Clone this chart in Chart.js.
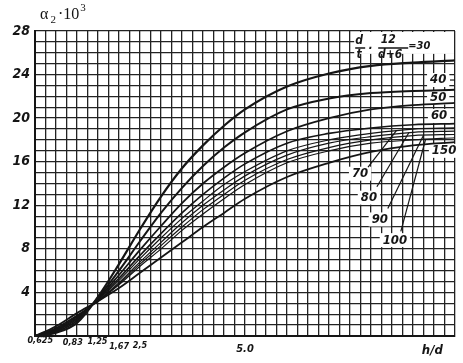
<!DOCTYPE html>
<html>
<head>
<meta charset="utf-8">
<script src="https://cdn.jsdelivr.net/npm/chart.js@4.4.1/dist/chart.umd.min.js"></script>
<style>
  html, body { margin: 0; padding: 0; background: #fff; }
</style>
</head>
<body>
<canvas id="chart" width="463" height="363"></canvas>
<script>
const hd = [0, 0.5, 1, 1.5, 2, 2.5, 3, 3.5, 4, 4.5, 5, 6, 7, 8, 9, 10];

// alpha2 * 10^3 for each d/t * 12/(d+6) ratio
const curve30  = [0, 0.3, 1.2, 3.6, 6.6, 9.8, 12.8, 15.4, 17.5, 19.3, 20.8, 22.9, 24.1, 24.8, 25.1, 25.3];
const curve40  = [0, 0.4, 1.4, 3.5, 6.0, 8.7, 11.3, 13.6, 15.6, 17.3, 18.7, 20.8, 21.8, 22.3, 22.5, 22.6];
const curve50  = [0, 0.5, 1.55, 3.4, 5.6, 7.9, 10.1, 12.2, 14.0, 15.5, 16.8, 18.8, 20.0, 20.8, 21.2, 21.4];
const curve60  = [0, 0.55, 1.65, 3.35, 5.3, 7.4, 9.4, 11.3, 13.0, 14.5, 15.8, 17.7, 18.6, 19.1, 19.4, 19.5];
const curve70  = [0, 0.6, 1.75, 3.3, 5.1, 7.1, 9.0, 10.8, 12.4, 13.9, 15.1, 17.0, 18.0, 18.6, 19.0, 19.1];
const curve80  = [0, 0.65, 1.8, 3.25, 4.9, 6.8, 8.6, 10.4, 12.0, 13.4, 14.7, 16.6, 17.7, 18.3, 18.7, 18.8];
const curve90  = [0, 0.7, 1.85, 3.2, 4.8, 6.6, 8.3, 10.0, 11.6, 13.0, 14.3, 16.2, 17.3, 18.0, 18.4, 18.5];
const curve100 = [0, 0.75, 1.9, 3.2, 4.7, 6.4, 8.0, 9.7, 11.2, 12.6, 13.9, 15.9, 17.0, 17.7, 18.0, 18.2];
const curve150 = [0, 0.9, 2.1, 3.2, 4.4, 5.8, 7.2, 8.6, 10.0, 11.3, 12.6, 14.6, 15.9, 16.9, 17.5, 17.8];

const curveNames = ['30', '40', '50', '60', '70', '80', '90', '100', '150'];
const curveValues = [curve30, curve40, curve50, curve60, curve70, curve80, curve90, curve100, curve150];

const yTickLabels = [4, 8, 12, 16, 20, 24, 28];
const xTickLabels = [5];
const xNoteValues = [0.625, 0.83, 1.25, 1.67, 2.5];
const xNoteLabels = ['0,625', '0,83', '1,25', '1,67', '2,5'];

const handFont = '"DejaVu Sans Condensed", "Liberation Sans Narrow", "DejaVu Sans", sans-serif';
const ink = '#151515';
const lineWidths = [2.2, 2.0, 1.8, 1.6, 1.2, 1.2, 1.2, 1.2, 1.8];

// value of a curve at h/d = v (straight interpolation between read points)
function valueAt(arr, v) {
    for (let i = 1; i < hd.length; i++) {
        if (v <= hd[i]) {
            const t = (v - hd[i - 1]) / (hd[i] - hd[i - 1]);
            return arr[i - 1] + t * (arr[i] - arr[i - 1]);
        }
    }
    return arr[arr.length - 1];
}

// hand lettering on the plot, placed in data units, with optional leader to a curve
const curveTags = [
    { name: '40', at: [9.6, 23.5] },
    { name: '50', at: [9.6, 21.9] },
    { name: '60', at: [9.62, 20.2] },
    { name: '70', at: [7.74, 14.9], from: [7.93, 15.5], tip: 8.6 },
    { name: '80', at: [7.95, 12.7], from: [8.14, 13.7], tip: 8.9 },
    { name: '90', at: [8.21, 10.7], from: [8.4, 11.7], tip: 9.25 },
    { name: '100', at: [8.57, 8.8], from: [8.71, 9.6], tip: 9.3 },
    { name: '150', at: [9.74, 17.0] }
];
const noteNudge = [[-21, 5], [3, 7], [10, 6], [14, 11], [0, 10]];

const notes = {
    id: 'notes',
    beforeDatasetsDraw(chart) {
        const { ctx, scales: { x, y } } = chart;
        ctx.save();
        ctx.fillStyle = '#fff';
        // blank patch for the formula
        const fx0 = x.getPixelForValue(7.6), fy0 = y.getPixelForValue(28);
        ctx.fillRect(fx0, fy0 + 1, x.right - fx0 - 1, y.getPixelForValue(25.9) - fy0 - 1);
        ctx.font = 'italic bold 13px ' + handFont;
        curveTags.forEach(t => {
            const px = x.getPixelForValue(t.at[0]), py = y.getPixelForValue(t.at[1]);
            const w = ctx.measureText(t.name).width;
            ctx.fillRect(px - w / 2 - 3, py - 7, w + 6, 14);
        });
        ctx.restore();
    },
    afterDatasetsDraw(chart) {
        const { ctx, scales: { x, y } } = chart;
        ctx.save();
        ctx.fillStyle = ink;
        ctx.strokeStyle = ink;
        ctx.textAlign = 'center';
        ctx.textBaseline = 'middle';

        // formula  d/t * 12/(d+6) = 30
        const bx = x.getPixelForValue(7.6), by = y.getPixelForValue(28);
        ctx.font = 'italic bold 12px ' + handFont;
        ctx.fillText('d', bx + 5, by + 10);
        ctx.fillText('t', bx + 5, by + 24);
        ctx.fillText('·', bx + 16, by + 18);
        ctx.fillText('12', bx + 34, by + 9);
        ctx.fillText('d+6', bx + 36, by + 24);
        ctx.textAlign = 'left';
        ctx.font = 'italic bold 11px ' + handFont;
        ctx.fillText('=30', bx + 54, by + 15);
        ctx.lineWidth = 1.4;
        ctx.beginPath();
        ctx.moveTo(bx + 1, by + 17); ctx.lineTo(bx + 11, by + 17);
        ctx.moveTo(bx + 24, by + 17); ctx.lineTo(bx + 54, by + 17);
        ctx.stroke();

        // curve names and leaders
        ctx.textAlign = 'center';
        ctx.font = 'italic bold 13px ' + handFont;
        curveTags.forEach(t => {
            ctx.fillText(t.name, x.getPixelForValue(t.at[0]), y.getPixelForValue(t.at[1]));
            if (t.from) {
                const arr = curveValues[curveNames.indexOf(t.name)];
                ctx.lineWidth = 1.2;
                ctx.beginPath();
                ctx.moveTo(x.getPixelForValue(t.from[0]), y.getPixelForValue(t.from[1]));
                ctx.lineTo(x.getPixelForValue(t.tip), y.getPixelForValue(valueAt(arr, t.tip)));
                ctx.stroke();
            }
        });
        ctx.lineWidth = 1.2;
        ctx.beginPath();
        ctx.moveTo(x.getPixelForValue(9.88), y.getPixelForValue(23.5));
        ctx.lineTo(x.getPixelForValue(10), y.getPixelForValue(23.5));
        ctx.stroke();

        // marks under the axis
        ctx.font = 'italic bold 9px ' + handFont;
        xNoteValues.forEach((v, i) => {
            ctx.fillText(xNoteLabels[i], x.getPixelForValue(v) + noteNudge[i][0], y.bottom + noteNudge[i][1]);
        });

        // y axis name  alpha2 * 10^3
        ctx.textAlign = 'left';
        ctx.textBaseline = 'alphabetic';
        const tx = x.left + 5, ty = 19;
        ctx.font = '16px "Liberation Serif", serif';
        ctx.fillText('α', tx, ty);
        let w = ctx.measureText('α').width;
        ctx.font = '11px "Liberation Serif", serif';
        ctx.fillText('2', tx + w + 2, ty + 4);
        w += ctx.measureText('2').width + 4;
        ctx.font = '16px "Liberation Serif", serif';
        ctx.fillText('·10', tx + w, ty);
        w += ctx.measureText('·10').width;
        ctx.font = '11px "Liberation Serif", serif';
        ctx.fillText('3', tx + w + 1, ty - 8);
        ctx.restore();
    }
};

new Chart(document.getElementById('chart'), {
    type: 'line',
    data: {
        datasets: curveNames.map((name, i) => ({
            label: name,
            data: hd.map((h, j) => ({ x: h, y: curveValues[i][j] })),
            borderColor: ink,
            borderWidth: lineWidths[i],
            pointRadius: 0,
            cubicInterpolationMode: 'monotone',
            fill: false
        }))
    },
    options: {
        responsive: false,
        animation: false,
        layout: { padding: { top: 31, right: 8, left: 0, bottom: 0 } },
        plugins: {
            legend: { display: false },
            tooltip: { enabled: false }
        },
        scales: {
            x: {
                type: 'linear',
                min: 0,
                max: 10,
                grid: { color: '#222', lineWidth: 1.3, drawTicks: false },
                border: { color: ink, width: 2 },
                ticks: {
                    stepSize: 0.25,
                    autoSkip: false,
                    maxRotation: 0,
                    padding: 7,
                    color: ink,
                    font: { family: handFont, size: 11, style: 'italic', weight: 'bold' },
                    callback: v => xTickLabels.includes(v) ? v.toFixed(1) : ''
                },
                title: {
                    display: true,
                    text: 'h/d   ',
                    align: 'end',
                    color: ink,
                    padding: { top: 0, bottom: 5 },
                    font: { family: handFont, size: 13, style: 'italic', weight: 'bold' }
                },
                afterFit: s => { s.height = 27; }
            },
            y: {
                min: 0,
                max: 28,
                grid: { color: '#222', lineWidth: 1.3, drawTicks: false },
                border: { color: ink, width: 2 },
                ticks: {
                    stepSize: 1,
                    autoSkip: false,
                    padding: 5,
                    color: ink,
                    font: { family: handFont, size: 14, style: 'italic', weight: 'bold' },
                    callback: v => yTickLabels.includes(v) ? String(v) : ''
                },
                afterFit: s => { s.width = 35; }
            }
        }
    },
    plugins: [notes]
});
</script>
</body>
</html>
